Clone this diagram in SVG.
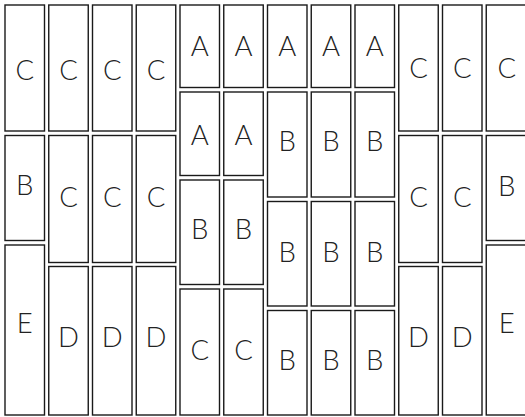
<svg xmlns="http://www.w3.org/2000/svg" width="525" height="417" viewBox="0 0 525 417">
<style>
rect{fill:#fff;stroke:#1a1a1a;stroke-width:1.4}
text{font-family:Lato,"Noto Sans","DejaVu Sans",sans-serif;font-weight:300;font-size:27.5px;fill:#222;text-anchor:middle}
</style>
<rect x="0" y="0" width="525" height="417" style="stroke:none"/>
<g id="c0">
<g id="n0a"><rect x="5" y="5" width="39.5" height="126"/><text x="24.75" y="79.5">C</text></g>
<g id="n0b"><rect x="5" y="135.5" width="39.5" height="105"/><text x="24.75" y="195">B</text></g>
<g id="n0c"><rect x="5" y="245" width="39.5" height="170"/><text x="24.75" y="332.7">E</text></g>
</g>
<g id="c1">
<g id="n1a"><rect x="48.75" y="5" width="39.5" height="126"/><text x="68.5" y="79.5">C</text></g>
<g id="n1b"><rect x="48.75" y="135.5" width="39.5" height="127"/><text x="68.5" y="207.3">C</text></g>
<g id="n1c"><rect x="48.75" y="266.5" width="39.5" height="148.5"/><text x="68.5" y="347">D</text></g>
</g>
<g id="c2">
<g id="n2a"><rect x="92.5" y="5" width="39.5" height="126"/><text x="112.25" y="79.5">C</text></g>
<g id="n2b"><rect x="92.5" y="135.5" width="39.5" height="127"/><text x="112.25" y="207.3">C</text></g>
<g id="n2c"><rect x="92.5" y="266.5" width="39.5" height="148.5"/><text x="112.25" y="347">D</text></g>
</g>
<g id="c3">
<g id="n3a"><rect x="136.25" y="5" width="39.5" height="126"/><text x="156" y="79.5">C</text></g>
<g id="n3b"><rect x="136.25" y="135.5" width="39.5" height="127"/><text x="156" y="207.3">C</text></g>
<g id="n3c"><rect x="136.25" y="266.5" width="39.5" height="148.5"/><text x="156" y="347">D</text></g>
</g>
<g id="c4">
<g id="n4a"><rect x="180" y="5" width="39.5" height="82.5"/><text x="199.75" y="56">A</text></g>
<g id="n4b"><rect x="180" y="92" width="39.5" height="83.5"/><text x="199.75" y="145">A</text></g>
<g id="n4c"><rect x="180" y="180" width="39.5" height="104.5"/><text x="199.75" y="239">B</text></g>
<g id="n4d"><rect x="180" y="289" width="39.5" height="126"/><text x="199.75" y="360">C</text></g>
</g>
<g id="c5">
<g id="n5a"><rect x="223.75" y="5" width="39.5" height="82.5"/><text x="243.5" y="56">A</text></g>
<g id="n5b"><rect x="223.75" y="92" width="39.5" height="83.5"/><text x="243.5" y="145">A</text></g>
<g id="n5c"><rect x="223.75" y="180" width="39.5" height="104.5"/><text x="243.5" y="239">B</text></g>
<g id="n5d"><rect x="223.75" y="289" width="39.5" height="126"/><text x="243.5" y="360">C</text></g>
</g>
<g id="c6">
<g id="n6a"><rect x="267.5" y="5" width="39.5" height="82.5"/><text x="287.25" y="56">A</text></g>
<g id="n6b"><rect x="267.5" y="92" width="39.5" height="105"/><text x="287.25" y="150.7">B</text></g>
<g id="n6c"><rect x="267.5" y="201.5" width="39.5" height="104.5"/><text x="287.25" y="261.7">B</text></g>
<g id="n6d"><rect x="267.5" y="310.5" width="39.5" height="104.5"/><text x="287.25" y="370">B</text></g>
</g>
<g id="c7">
<g id="n7a"><rect x="311.25" y="5" width="39.5" height="82.5"/><text x="331" y="56">A</text></g>
<g id="n7b"><rect x="311.25" y="92" width="39.5" height="105"/><text x="331" y="150.7">B</text></g>
<g id="n7c"><rect x="311.25" y="201.5" width="39.5" height="104.5"/><text x="331" y="261.7">B</text></g>
<g id="n7d"><rect x="311.25" y="310.5" width="39.5" height="104.5"/><text x="331" y="370">B</text></g>
</g>
<g id="c8">
<g id="n8a"><rect x="355" y="5" width="39.5" height="82.5"/><text x="374.75" y="56">A</text></g>
<g id="n8b"><rect x="355" y="92" width="39.5" height="105"/><text x="374.75" y="150.7">B</text></g>
<g id="n8c"><rect x="355" y="201.5" width="39.5" height="104.5"/><text x="374.75" y="261.7">B</text></g>
<g id="n8d"><rect x="355" y="310.5" width="39.5" height="104.5"/><text x="374.75" y="370">B</text></g>
</g>
<g id="c9">
<g id="n9a"><rect x="398.75" y="5" width="39.5" height="126"/><text x="418.5" y="77.5">C</text></g>
<g id="n9b"><rect x="398.75" y="135.5" width="39.5" height="127"/><text x="418.5" y="207.3">C</text></g>
<g id="n9c"><rect x="398.75" y="266.5" width="39.5" height="148.5"/><text x="418.5" y="347.3">D</text></g>
</g>
<g id="c10">
<g id="n10a"><rect x="442.5" y="5" width="39.5" height="126"/><text x="462.25" y="77.5">C</text></g>
<g id="n10b"><rect x="442.5" y="135.5" width="39.5" height="127"/><text x="462.25" y="207.3">C</text></g>
<g id="n10c"><rect x="442.5" y="266.5" width="39.5" height="148.5"/><text x="462.25" y="347.3">D</text></g>
</g>
<g id="c11">
<g id="n11a"><rect x="486.25" y="5" width="41" height="126"/><text x="506.75" y="77.5">C</text></g>
<g id="n11b"><rect x="486.25" y="135.5" width="41" height="105"/><text x="506.75" y="196">B</text></g>
<g id="n11c"><rect x="486.25" y="245" width="41" height="170"/><text x="506.75" y="332.7">E</text></g>
</g>
<g id="connectors"/>
</svg>
